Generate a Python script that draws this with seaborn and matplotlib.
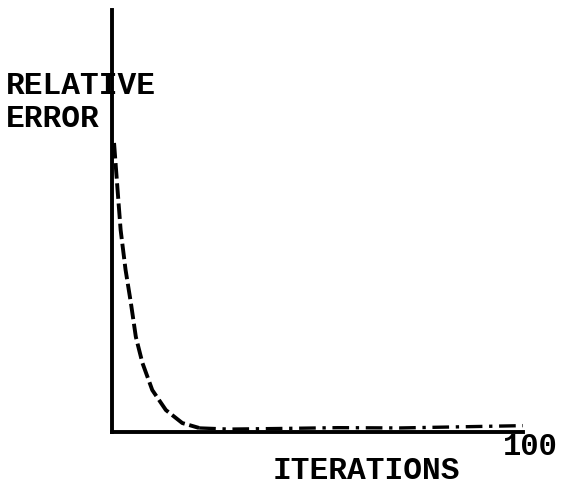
import matplotlib
matplotlib.use("Agg")
import matplotlib.pyplot as plt
import seaborn as sns
import pandas as pd

# relative error vs iterations
iterations = [0.5, 1.3, 2.1, 3.3, 4.6, 5.8, 7.4, 9.8, 13.1, 17.1, 21.2, 28.5,
              40, 55, 70, 85, 100]
rel_error = [1.0, 0.848, 0.699, 0.561, 0.446, 0.329, 0.239, 0.145, 0.076,
             0.031, 0.014, 0.01, 0.012, 0.015, 0.014, 0.018, 0.022]

x_label = "ITERATIONS"
y_label = "RELATIVE\nERROR"
x_end_label = "100"

df = pd.DataFrame({"iter": iterations, "err": rel_error})

sns.set_style("white")
plt.rcParams["font.family"] = ["Liberation Mono", "DejaVu Sans Mono"]

fig = plt.figure(figsize=(5.61, 4.94), dpi=100)
ax = fig.add_axes([112 / 561, 62 / 494, 411 / 561, 422 / 494])

head = df[df["iter"] <= 21.2]
tail = df[df["iter"] >= 21.2]
sns.lineplot(data=head, x="iter", y="err", ax=ax, color="black",
             linewidth=2.8, linestyle=(0, (4, 1.2)))
sns.lineplot(data=tail, x="iter", y="err", ax=ax, color="black",
             linewidth=2.4, linestyle=(0, (5, 2, 1, 2)))

ax.set_xlim(0, 100)
ax.set_ylim(0, 1.46)
ax.set_xticks([])
ax.set_yticks([])
ax.set_xlabel("")
ax.set_ylabel("")
for s in ["top", "right"]:
    ax.spines[s].set_visible(False)
for s in ["left", "bottom"]:
    ax.spines[s].set_color("black")
    ax.spines[s].set_linewidth(2.8)

txt = dict(fontweight="bold", color="black", va="center")
fig.text(6 / 561, 1 - 86 / 494, y_label.split("\n")[0], fontsize=22.5,
         ha="left", **txt)
fig.text(6 / 561, 1 - 119 / 494, y_label.split("\n")[1], fontsize=22.5,
         ha="left", **txt)
fig.text(530 / 561, 1 - 447 / 494, x_end_label, fontsize=22,
         ha="center", **txt)
fig.text(366 / 561, 1 - 471 / 494, x_label, fontsize=22.5,
         ha="center", **txt)

fig.savefig("out.png", dpi=100)
